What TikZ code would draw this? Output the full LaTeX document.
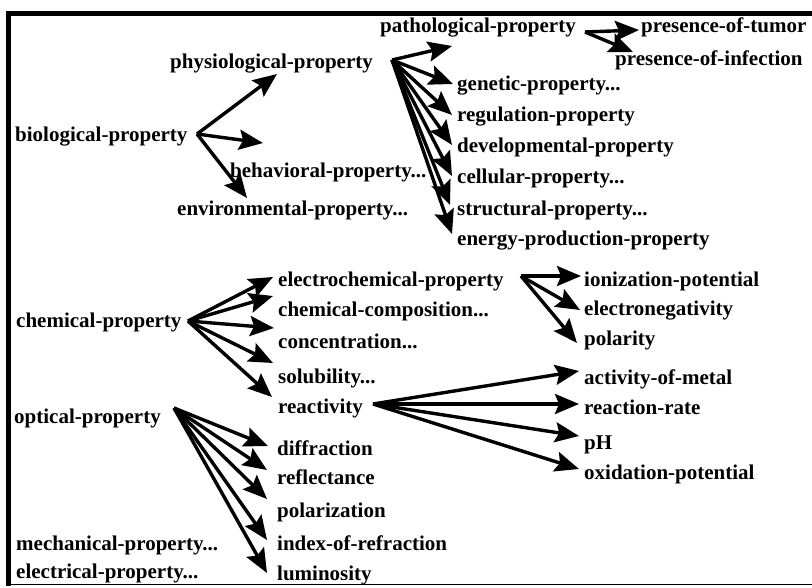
\documentclass[tikz,border=0pt]{standalone}
\usepackage{fontspec}
\setmainfont{Liberation Serif}
\usetikzlibrary{arrows.meta}
\tikzset{
  prop/.style={anchor=base west, inner sep=0pt,
               font=\fontsize{21}{24}\selectfont\bfseries},
  isa/.style={-{Stealth[length=24pt, width=20pt, inset=4pt]}, line width=3.4pt},
  frameline/.style={line width=5pt}
}
\begin{document}
\begin{tikzpicture}[x=1pt, y=-1pt]
  \useasboundingbox (0,0) rectangle (812,587);
  \draw[frameline] (8,586) -- (8,13) -- (812,13);
  \draw[line width=1.5pt] (8,584.5) -- (812,584.5);

  % biological
  \node[prop] (bio) at (15,141) {biological-property};
  \node[prop] (phys) at (170,68) {physiological-property};
  \node[prop] (behav) at (230,177) {behavioral-property...};
  \node[prop] (envir) at (177,215) {environmental-property...};
  \node[prop] (patho) at (380,32) {pathological-property};
  \node[prop] (tumor) at (641,32) {presence-of-tumor};
  \node[prop] (infect) at (615,65) {presence-of-infection};
  \node[prop] (genet) at (457,90) {genetic-property...};
  \node[prop] (regul) at (457,121) {regulation-property};
  \node[prop] (devel) at (457,152) {developmental-property};
  \node[prop] (cellul) at (457,183) {cellular-property...};
  \node[prop] (struct) at (457,215) {structural-property...};
  \node[prop] (energy) at (457,245) {energy-production-property};

  % chemical
  \node[prop] (chem) at (16,327) {chemical-property};
  \node[prop] (echem) at (278,286) {electrochemical-property};
  \node[prop] (ccomp) at (278,316) {chemical-composition...};
  \node[prop] (conc) at (278,348) {concentration...};
  \node[prop] (solub) at (278,383) {solubility...};
  \node[prop] (react) at (278,413) {reactivity};
  \node[prop] (ioniz) at (584,286) {ionization-potential};
  \node[prop] (eneg) at (584,315) {electronegativity};
  \node[prop] (polar) at (584,345) {polarity};
  \node[prop] (activ) at (584,384) {activity-of-metal};
  \node[prop] (rrate) at (584,414) {reaction-rate};
  \node[prop] (ph) at (584,449) {pH};
  \node[prop] (oxid) at (584,479) {oxidation-potential};

  % optical and the rest
  \node[prop] (optic) at (14,423) {optical-property};
  \node[prop] (diffr) at (277,455) {diffraction};
  \node[prop] (refl) at (277,484) {reflectance};
  \node[prop] (polz) at (277,517) {polarization};
  \node[prop] (index) at (277,550) {index-of-refraction};
  \node[prop] (lumin) at (277,580) {luminosity};
  \node[prop] (mech) at (16,550) {mechanical-property...};
  \node[prop] (elec) at (16,578) {electrical-property...};

  % where the arrows leave and end
  \coordinate (bio-o) at (197,134);
  \coordinate (phys-o) at (392,60);
  \coordinate (patho-o) at (585,32);
  \coordinate (chem-o) at (188,321);
  \coordinate (echem-o) at (521,276);
  \coordinate (react-o) at (373,404);
  \coordinate (optic-o) at (174,408);

  \coordinate (phys-i) at (277,74);
  \coordinate (behav-i) at (263,143);
  \coordinate (envir-i) at (247,198);
  \coordinate (patho-i) at (452,46);
  \coordinate (genet-i) at (453,84);
  \coordinate (regul-i) at (452,115);
  \coordinate (devel-i) at (452,145);
  \coordinate (cellul-i) at (452,176);
  \coordinate (struct-i) at (450,205);
  \coordinate (energy-i) at (452,234);
  \coordinate (tumor-i) at (639,30);
  \coordinate (infect-i) at (633,52);
  \coordinate (echem-i) at (273,277);
  \coordinate (ccomp-i) at (273,296);
  \coordinate (conc-i) at (274,328);
  \coordinate (solub-i) at (273,363);
  \coordinate (react-i) at (272,397);
  \coordinate (ioniz-i) at (581,276);
  \coordinate (eneg-i) at (580,310);
  \coordinate (polar-i) at (577,343);
  \coordinate (activ-i) at (579,371);
  \coordinate (rrate-i) at (579,404);
  \coordinate (ph-i) at (579,436);
  \coordinate (oxid-i) at (579,469);
  \coordinate (diffr-i) at (268,446);
  \coordinate (refl-i) at (267,470);
  \coordinate (polz-i) at (267,499);
  \coordinate (index-i) at (267,540);
  \coordinate (lumin-i) at (267,573);

  \foreach \c in {phys,behav,envir} \draw[isa] (bio-o) -- (\c-i);
  \foreach \c in {patho,genet,regul,devel,cellul,struct,energy} \draw[isa] (phys-o) -- (\c-i);
  \foreach \c in {tumor,infect} \draw[isa] (patho-o) -- (\c-i);
  \foreach \c in {echem,ccomp,conc,solub,react} \draw[isa] (chem-o) -- (\c-i);
  \foreach \c in {ioniz,eneg,polar} \draw[isa] (echem-o) -- (\c-i);
  \foreach \c in {activ,rrate,ph,oxid} \draw[isa] (react-o) -- (\c-i);
  \foreach \c in {diffr,refl,polz,index,lumin} \draw[isa] (optic-o) -- (\c-i);
\end{tikzpicture}
\end{document}
